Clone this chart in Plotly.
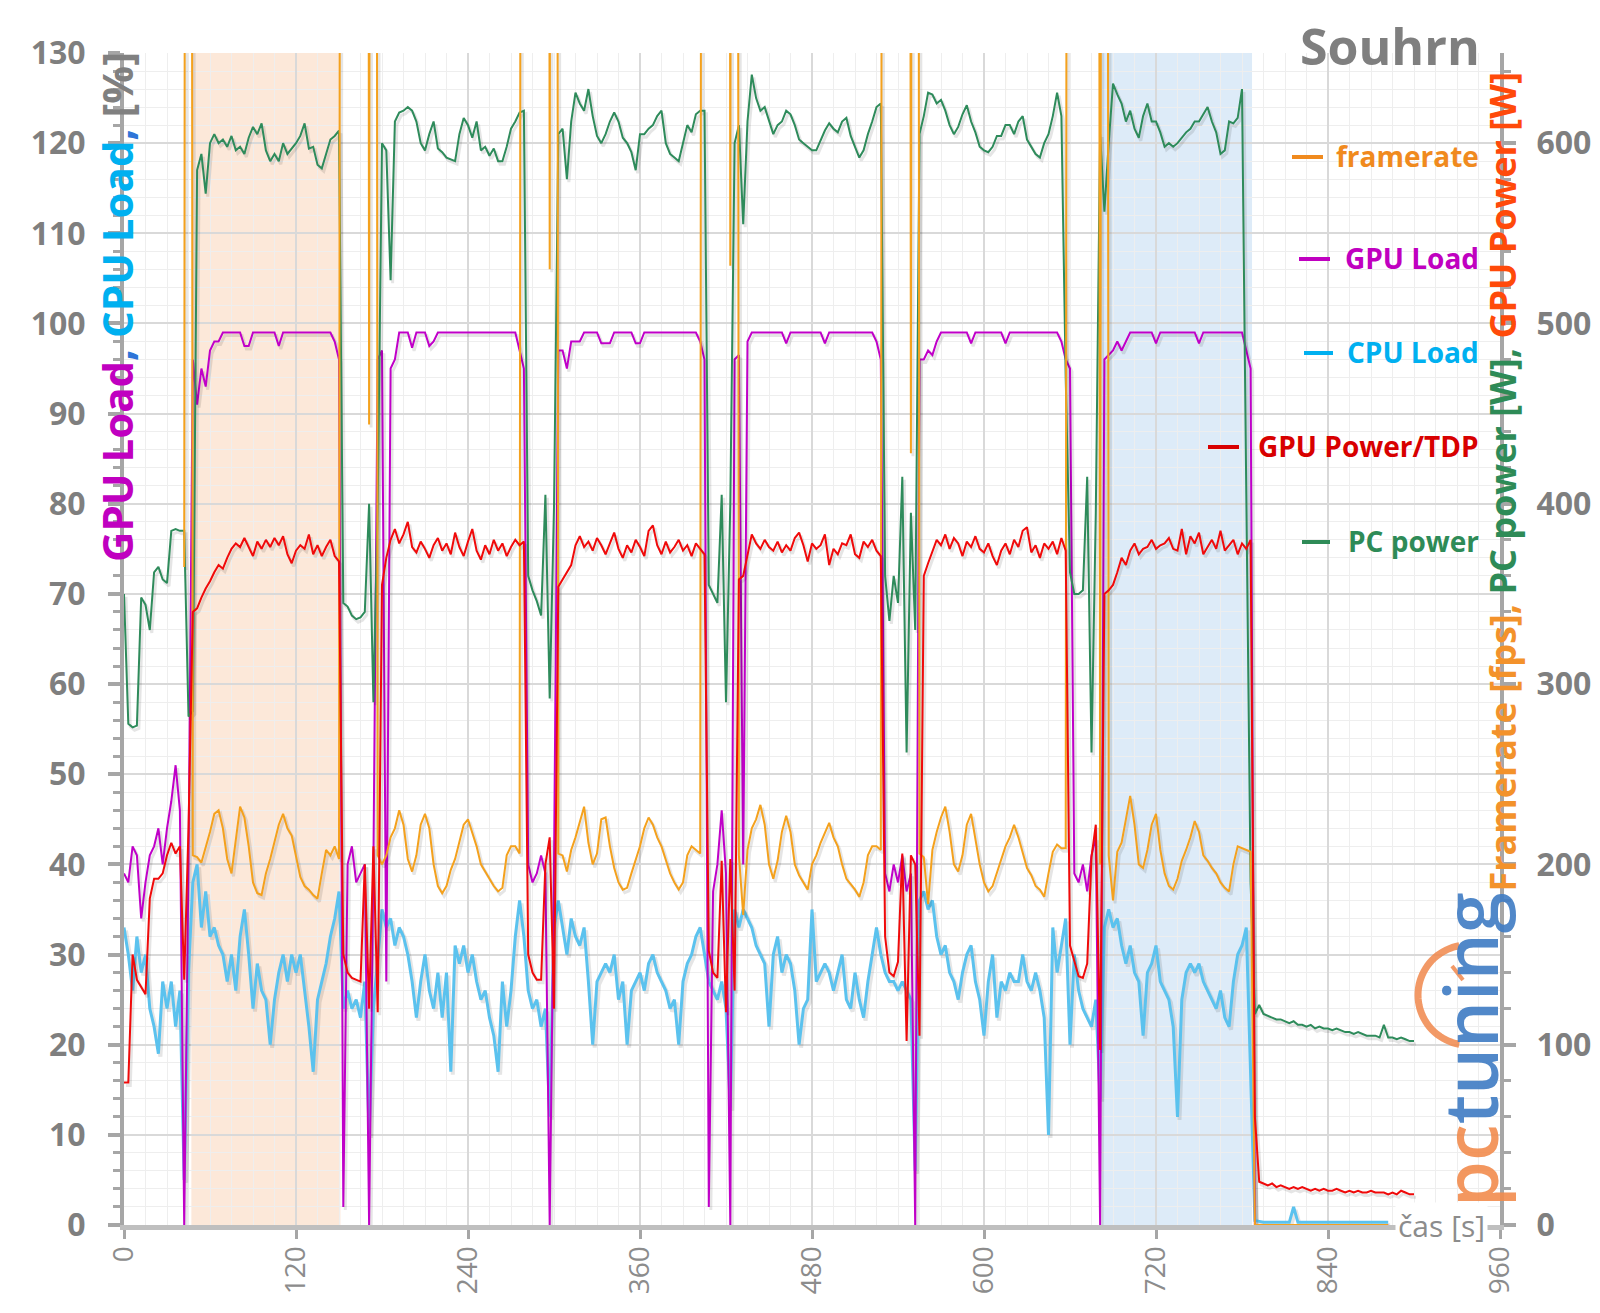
import math
import plotly.graph_objects as go

N = None
H = 3000  # framerate far above the scale (loading screens)

# sample times [s]
t = list(range(0, 901, 3))

# framerate [fps] (right axis)
fps = [
    N, N, N, N, N, N, N, N, N, N,
    N, N, N, N, 365, H, 205, 204, 201, 209,
    218, 228, 230, 220, 203, 195, 215, 232, 226, 210,
    190, 184, 183, 195, 203, 212, 222, 228, 220, 216,
    204, 193, 188, 186, 183, 181, 195, 208, 205, 210,
    203, H, H, H, H, H, H, 444, H, 205,
    200, 205, 215, 220, 230, 222, 203, 196, 205, 222,
    228, 220, 200, 188, 184, 188, 197, 203, 212, 222,
    225, 218, 210, 200, 196, 192, 188, 185, 187, 205,
    210, 210, 206, H, H, H, H, H, H, 530,
    H, 206, 205, 196, 208, 215, 224, 232, 212, 200,
    206, 225, 226, 210, 198, 190, 186, 187, 195, 202,
    210, 220, 226, 222, 215, 210, 202, 195, 190, 186,
    190, 205, 210, 208, 206, H, H, H, H, H,
    H, 532, H, 205, 172, 208, 220, 225, 233, 222,
    200, 192, 202, 218, 227, 218, 200, 194, 190, 186,
    200, 205, 212, 218, 223, 215, 210, 200, 192, 189,
    186, 182, 190, 205, 210, 210, 208, H, H, H,
    H, H, H, 428, H, 206, 204, 178, 208, 218,
    226, 232, 218, 200, 196, 205, 222, 228, 215, 200,
    190, 185, 188, 195, 203, 210, 215, 222, 215, 207,
    198, 194, 188, 186, 182, 195, 207, 211, 209, 209,
    H, H, H, H, H, H, H, 200, H, 205,
    180, 207, 212, 225, 238, 222, 200, 198, 208, 222,
    228, 208, 195, 188, 186, 192, 202, 208, 215, 224,
    218, 205, 202, 198, 195, 190, 187, 185, 200, 210,
    209, 208, 207, 0, 0, 0, 0, 0, 0, 0,
    0, 0, 0, 0, 0, 0, 0, 0, 0, 0,
    0, 0, 0, 0, 0, 0, 0, 0, 0, 0,
    0, 0, 0, 0, 0, N, N, N, N, N,
    N,
]

# GPU load [%] (left axis)
gpu_load = [
    39, 38, 42, 41, 34, 38, 41, 42, 44, 40,
    44, 47, 51, 46, 0, 40, 96, 91, 95, 93,
    97, 98, 98, 99, 99, 99, 99, 99, 97.5, 97.5,
    99, 99, 99, 99, 99, 99, 97.5, 99, 99, 99,
    99, 99, 99, 99, 99, 99, 99, 99, 99, 98,
    96, 2, 40, 42, 38, 39, 40, 0, 40, 96,
    97, 27, 95, 96, 99, 99, 99, 97.3, 99, 99,
    99, 97.5, 98, 99, 99, 99, 99, 99, 99, 99,
    99, 99, 99, 99, 99, 99, 99, 99, 99, 99,
    99, 99, 97, 95, 40, 38, 39, 41, 39, 0,
    40, 97, 97, 95, 98, 98, 98, 99, 99, 99,
    99, 97.8, 97.8, 97.8, 99, 99, 99, 99, 99, 97.8,
    97.8, 99, 99, 99, 99, 99, 99, 99, 99, 99,
    99, 99, 99, 99, 98, 96, 2, 37, 40, 46,
    39, 0, 96, 96.5, 40, 98, 99, 99, 99, 99,
    99, 99, 99, 99, 97.8, 99, 99, 99, 99, 99,
    99, 99, 99, 97.8, 99, 99, 99, 99, 99, 99,
    99, 99, 99, 99, 99, 98, 96, 39, 37, 40,
    38, 41, 37, 39, 0, 96, 96, 97, 96.5, 98,
    99, 99, 99, 99, 99, 99, 99, 97.8, 99, 99,
    99, 99, 99, 99, 99, 97.8, 99, 99, 99, 99,
    99, 99, 99, 99, 99, 99, 99, 99, 98, 96,
    95, 39, 38, 40, 37, 41, 43, 0, 96, 96.5,
    97, 98, 97, 98, 99, 99, 99, 99, 99, 99,
    97.8, 99, 99, 99, 99, 99, 99, 99, 99, 99,
    97.8, 99, 99, 99, 99, 99, 99, 99, 99, 99,
    99, 97, 95, 0, 0, 0, 0, 0, 0, 0,
    0, 0, 0, 0, 0, 0, 0, 0, 0, 0,
    0, 0, 0, 0, 0, 0, 0, 0, 0, 0,
    0, 0, 0, 0, 0, N, N, N, N, N,
    N,
]

# CPU load [%] (left axis)
cpu_load = [
    33, 30, 26, 32, 28, 30, 24, 22, 19, 27,
    24, 27, 22, 26, 5, 28, 38, 40, 33, 37,
    32, 33, 31, 30, 27, 30, 26, 32, 35, 30,
    24, 29, 26, 25, 20, 25, 28, 30, 27, 30,
    28, 30, 26, 22, 17, 25, 27, 29, 32, 34,
    37, 24, 26, 24, 25, 23, 27, 10, 24, 30,
    35, 33, 34, 31, 33, 32, 30, 27, 23, 27,
    30, 26, 24, 28, 23, 28, 17, 31, 29, 31,
    28, 30, 27, 25, 26, 23, 21, 17, 27, 22,
    26, 32, 36, 32, 26, 24, 25, 22, 24, 12,
    33, 36, 33, 30, 34, 32, 31, 33, 27, 20,
    27, 28, 29, 28, 30, 25, 27, 20, 26, 27,
    28, 26, 29, 30, 28, 27, 26, 24, 25, 20,
    27, 29, 30, 32, 33, 30, 27, 26, 25, 27,
    24, 13, 35, 33, 35, 34, 33, 31, 30, 29,
    22, 30, 32, 28, 30, 29, 26, 20, 24, 25,
    35, 27, 28, 29, 28, 26, 28, 30, 25, 24,
    28, 25, 23, 27, 30, 33, 30, 28, 27, 27,
    26, 27, 26, 25, 6, 36, 37, 35, 36, 32,
    30, 31, 28, 27, 25, 28, 30, 31, 27, 25,
    21, 27, 30, 23, 27, 26, 28, 27, 27, 30,
    27, 26, 28, 26, 23, 10, 33, 28, 31, 34,
    20, 30, 26, 24, 23, 22, 25, 14, 33, 35,
    33, 34, 31, 29, 31, 28, 27, 21, 28, 29,
    31, 27, 26, 25, 22, 12, 25, 28, 29, 28,
    29, 27, 26, 25, 24, 26, 23, 22, 27, 30,
    31, 33, 18, 0.5, 0.4, 0.3, 0.3, 0.3, 0.3, 0.3,
    0.3, 0.3, 2, 0.3, 0.3, 0.3, 0.3, 0.3, 0.3, 0.3,
    0.3, 0.3, 0.3, 0.3, 0.3, 0.3, 0.3, 0.3, 0.3, 0.3,
    0.3, 0.3, 0.3, 0.3, 0.3, N, N, N, N, N,
    N,
]

# GPU power [W] (right axis)
gpu_power = [
    79, 79, 150, 136, 132, 128, 181, 192, 192, 195,
    205, 212, 206, 210, 136, 220, 340, 342, 348, 353,
    357, 362, 366, 364, 370, 375, 378, 376, 381, 376,
    371, 379, 375, 380, 376, 381, 377, 382, 372, 367,
    374, 377, 375, 383, 372, 377, 371, 376, 380, 371,
    368, 150, 140, 137, 136, 135, 200, 120, 210, 118,
    355, 370, 380, 386, 378, 383, 390, 376, 373, 379,
    375, 370, 377, 381, 374, 378, 372, 384, 376, 371,
    379, 386, 374, 369, 377, 372, 380, 374, 378, 371,
    376, 380, 377, 379, 150, 140, 136, 136, 200, 215,
    120, 354, 358, 362, 366, 377, 382, 376, 379, 374,
    381, 377, 372, 378, 384, 375, 370, 377, 373, 380,
    376, 371, 385, 388, 377, 372, 379, 373, 376, 380,
    374, 377, 371, 378, 375, 372, 152, 140, 137, 202,
    118, 203, 130, 358, 360, 372, 383, 378, 375, 380,
    376, 374, 379, 373, 377, 374, 381, 384, 377, 368,
    378, 375, 377, 383, 366, 375, 372, 378, 377, 383,
    372, 370, 379, 376, 380, 374, 371, 160, 140, 138,
    146, 206, 102, 205, 200, 105, 360, 367, 374, 380,
    377, 383, 375, 381, 378, 371, 379, 376, 382, 375,
    373, 378, 371, 366, 374, 378, 372, 380, 376, 385,
    387, 373, 377, 370, 378, 375, 379, 372, 381, 374,
    155, 147, 138, 137, 145, 204, 222, 97, 350, 352,
    355, 362, 370, 366, 374, 378, 372, 375, 376, 380,
    375, 377, 378, 381, 375, 374, 386, 372, 382, 378,
    384, 372, 376, 380, 375, 385, 374, 377, 380, 372,
    378, 375, 380, 60, 24, 23, 22, 23, 21, 22,
    21, 20, 21, 20, 21, 20, 19, 20, 19, 20,
    19, 19, 20, 19, 18, 19, 18, 19, 18, 18,
    19, 18, 18, 18, 17, 18, 17, 19, 18, 17,
    17,
]

# PC power [W] (right axis)
pc_power = [
    350, 278, 276, 277, 348, 344, 330, 362, 365, 358,
    356, 385, 386, 385, 385, 282, 285, 585, 594, 572,
    600, 605, 600, 602, 598, 604, 596, 598, 594, 603,
    609, 605, 611, 596, 590, 594, 590, 600, 594, 597,
    600, 604, 611, 597, 598, 588, 586, 594, 602, 604,
    607, 345, 343, 338, 336, 337, 340, 400, 290, 400,
    600, 596, 524, 612, 617, 618, 620, 618, 612, 600,
    596, 605, 612, 597, 595, 592, 591, 590, 605, 614,
    610, 603, 612, 596, 598, 593, 597, 590, 590, 598,
    608, 612, 617, 618, 360, 352, 346, 338, 405, 292,
    398, 605, 608, 580, 612, 628, 622, 618, 630, 615,
    604, 600, 605, 612, 617, 612, 603, 600, 595, 585,
    605, 605, 608, 610, 615, 618, 600, 594, 592, 590,
    600, 610, 606, 616, 618, 618, 355, 350, 345, 405,
    290, 400, 600, 610, 555, 612, 638, 625, 618, 620,
    612, 605, 610, 612, 618, 616, 610, 602, 600, 598,
    596, 596, 602, 607, 611, 608, 606, 612, 614, 604,
    598, 592, 596, 605, 612, 620, 622, 360, 335, 360,
    345, 415, 262, 395, 330, 605, 615, 628, 627, 622,
    624, 618, 610, 605, 609, 616, 621, 612, 606, 598,
    596, 595, 598, 604, 604, 610, 610, 605, 612, 615,
    602, 598, 594, 592, 600, 605, 615, 628, 615, 470,
    362, 350, 350, 352, 415, 262, 395, 605, 562, 600,
    633, 627, 622, 612, 618, 608, 603, 615, 622, 612,
    612, 606, 598, 600, 598, 600, 603, 606, 608, 612,
    612, 616, 620, 612, 606, 594, 596, 612, 611, 614,
    630, 405, 190, 117, 122, 117, 116, 115, 114, 114,
    113, 112, 113, 111, 111, 110, 111, 109, 110, 109,
    109, 108, 109, 108, 107, 107, 106, 107, 106, 105,
    105, 105, 104, 111, 104, 104, 103, 104, 103, 102,
    102,
]

# highlighted runs [s]
runs = [(47, 151, "#FCE8D9"), (682, 787, "#DDEBF8")]

for nm, arr in [("fps", fps), ("gpu_load", gpu_load), ("cpu_load", cpu_load),
                ("gpu_power", gpu_power), ("pc_power", pc_power)]:
    if len(arr) != len(t):
        print("length mismatch", nm, len(arr), len(t))

C_FPS = "#F4A11D"
C_GL = "#C000C8"
C_CL = "#5BC2EE"
C_GP = "#F00A0A"
C_PC = "#2E8B5B"
GRAY = "#7F7F7F"
FONT = "Open Sans"

# page body has an 8 px margin: figure is drawn 8 px right/down of window origin
OFF = 8
W, Hh = 1600 - OFF, 1313 - OFF
L, R, T, B = 116, 100, 45, 88
pw, ph = W - L - R, Hh - T - B


def px(xw):  # window x -> paper
    return (xw - OFF - L) / pw


def py(yw):  # window y -> paper
    return (Hh - B - (yw - OFF)) / ph


# soft drop shadow (Excel-like): offset 2 px right, 3 px down
sx = 2 * 960 / pw
sy_left = 3 * 130 / ph
sy_right = 3 * 650 / ph


def shadow(vals, dy):
    return [None if v is None else v - dy for v in vals]


ts = [x + sx for x in t]

fig = go.Figure()
SH = "rgba(0,0,0,0.10)"
fig.add_trace(go.Scatter(x=ts, y=shadow(cpu_load, sy_left), mode="lines", hoverinfo="skip",
                         line=dict(color=SH, width=4), yaxis="y", showlegend=False))
fig.add_trace(go.Scatter(x=ts, y=shadow(gpu_load, sy_left), mode="lines", hoverinfo="skip",
                         line=dict(color=SH, width=3), yaxis="y", showlegend=False))
fig.add_trace(go.Scatter(x=t, y=cpu_load, name="CPU Load", mode="lines",
                         line=dict(color=C_CL, width=3), yaxis="y"))
fig.add_trace(go.Scatter(x=t, y=gpu_load, name="GPU Load", mode="lines",
                         line=dict(color=C_GL, width=2), yaxis="y"))
for vals in (pc_power, fps, gpu_power):
    fig.add_trace(go.Scatter(x=ts, y=shadow(vals, sy_right), mode="lines", hoverinfo="skip",
                             line=dict(color=SH, width=3), yaxis="y2", showlegend=False))
fig.add_trace(go.Scatter(x=t, y=pc_power, name="PC power", mode="lines",
                         line=dict(color=C_PC, width=2), yaxis="y2"))
fig.add_trace(go.Scatter(x=t, y=fps, name="framerate", mode="lines",
                         line=dict(color=C_FPS, width=2), yaxis="y2"))
fig.add_trace(go.Scatter(x=t, y=gpu_power, name="GPU Power/TDP", mode="lines",
                         line=dict(color=C_GP, width=2), yaxis="y2"))

shapes = []
for x0, x1, col in runs:
    shapes.append(dict(type="rect", xref="x", yref="paper", x0=x0, x1=x1, y0=0, y1=1,
                       fillcolor=col, line=dict(width=0), layer="below"))

# pctuning logo gauge arc
cx, cy, rr = 1468, 995, 50
pts = []
for k in range(0, 41):
    a = math.radians(100 + k * 4)
    pts.append((px(cx + rr * math.cos(a)), py(cy - rr * math.sin(a))))
path = "M " + " L ".join(f"{a:.5f},{b:.5f}" for a, b in pts)
shapes.append(dict(type="path", xref="paper", yref="paper", path=path,
                   line=dict(color="rgba(240,135,75,0.85)", width=7), layer="above"))
shapes.append(dict(type="line", xref="paper", yref="paper",
                   x0=px(1452), y0=py(966), x1=px(1463), y1=py(980),
                   line=dict(color="rgba(240,135,75,0.85)", width=4)))

annotations = []
annotations.append(dict(text="<b>Souhrn</b>", x=px(1482), y=py(46), xref="paper", yref="paper",
                        xanchor="right", yanchor="middle", showarrow=False,
                        font=dict(family=FONT, size=50, color=GRAY)))

# legend: (label, colour, window y, dash x0, dash x1)
legend_items = [("framerate", "#F08A1E", 156, 1292, 1323),
                ("GPU Load", "#C000C0", 258, 1299, 1330),
                ("CPU Load", "#00B0F0", 352, 1304, 1333),
                ("GPU Power/TDP", "#D80000", 446, 1208, 1239),
                ("PC power", "#2E8B57", 541, 1302, 1330)]
for name, col, yy, d0, d1 in legend_items:
    annotations.append(dict(text="<b>" + name + "</b>", x=px(1481), y=py(yy),
                            xref="paper", yref="paper", xanchor="right", yanchor="middle",
                            showarrow=False, font=dict(family=FONT, size=28, color=col)))
    shapes.append(dict(type="line", xref="paper", yref="paper", x0=px(d0), x1=px(d1),
                       y0=py(yy + 1), y1=py(yy + 1), line=dict(color=col, width=4)))

left_title = ('<b><span style="color:#C000C0">GPU Load</span>'
              '<span style="color:#2E75D8">, </span>'
              '<span style="color:#00B0F0">CPU Load</span>'
              '<span style="color:#2E75D8">, </span>'
              '<span style="color:#808080">[%]</span></b>')
annotations.append(dict(text=left_title, textangle=-90, x=px(116), y=py(50),
                        xref="paper", yref="paper", xanchor="center", yanchor="top",
                        showarrow=False, font=dict(family=FONT, size=42)))

right_title = ('<b><span style="color:#F3922B">Framerate [fps], </span>'
               '<span style="color:#2E8B57">PC power [W], </span>'
               '<span style="color:#FF4A0A">GPU Power [W]</span></b>')
annotations.append(dict(text=right_title, textangle=-90, x=px(1502), y=py(70),
                        xref="paper", yref="paper", xanchor="center", yanchor="top",
                        showarrow=False, font=dict(family=FONT, size=36)))

annotations.append(dict(text="čas [s]", x=919, y=0, xref="x", yref="y",
                        xanchor="center", yanchor="middle", showarrow=False,
                        bgcolor="white", borderpad=2,
                        font=dict(family=FONT, size=30, color="#8C8C8C")))

annotations.append(dict(text='<span style="color:#F28C4E">pc</span>'
                             '<span style="color:#3F7CC4">tuning</span>',
                        textangle=-90, x=px(1469), y=py(1050), xref="paper", yref="paper",
                        xanchor="center", yanchor="middle", showarrow=False, opacity=0.9,
                        font=dict(family=FONT, size=74, weight=600)))

fig.update_layout(
    width=W, height=Hh,
    margin=dict(l=L, r=R, t=T, b=B, autoexpand=False),
    paper_bgcolor="white", plot_bgcolor="white",
    showlegend=False,
    font=dict(family=FONT, color=GRAY),
    shapes=shapes,
    annotations=annotations,
    xaxis=dict(range=[0, 960], dtick=120, tick0=0, tickangle=-90, automargin=False,
               showgrid=True, gridcolor="#D9D9D9", gridwidth=2,
               minor=dict(dtick=15, showgrid=True, gridcolor="#EEEEEE", gridwidth=1),
               ticks="outside", ticklen=9, tickwidth=3, tickcolor="#A6A6A6",
               showline=True, linecolor="#BFBFBF", linewidth=5,
               zeroline=False, ticklabelstandoff=-4,
               tickfont=dict(family=FONT, size=28, color="#8C8C8C")),
    yaxis=dict(range=[0, 130], dtick=10, tick0=0, automargin=False,
               showgrid=True, gridcolor="#D9D9D9", gridwidth=2,
               minor=dict(dtick=2, showgrid=True, gridcolor="#EEEEEE", gridwidth=1,
                          ticks="outside", ticklen=7, tickwidth=3, tickcolor="#A6A6A6"),
               ticks="outside", ticklen=12, tickwidth=4, tickcolor="#A6A6A6",
               showline=True, linecolor="#A6A6A6", linewidth=4,
               zeroline=False, ticklabelstandoff=16,
               tickfont=dict(family=FONT, size=32, color=GRAY, weight="bold")),
    yaxis2=dict(range=[0, 650], dtick=100, tick0=0, overlaying="y", side="right",
                showgrid=False, zeroline=False, automargin=False,
                minor=dict(dtick=20, ticks="outside", ticklen=7, tickwidth=3, tickcolor="#A6A6A6"),
                ticks="outside", ticklen=12, tickwidth=4, tickcolor="#A6A6A6",
                showline=True, linecolor="#A6A6A6", linewidth=4, ticklabelstandoff=14,
                tickfont=dict(family=FONT, size=32, color=GRAY, weight="bold")),
)

fig.write_html("out.html")
